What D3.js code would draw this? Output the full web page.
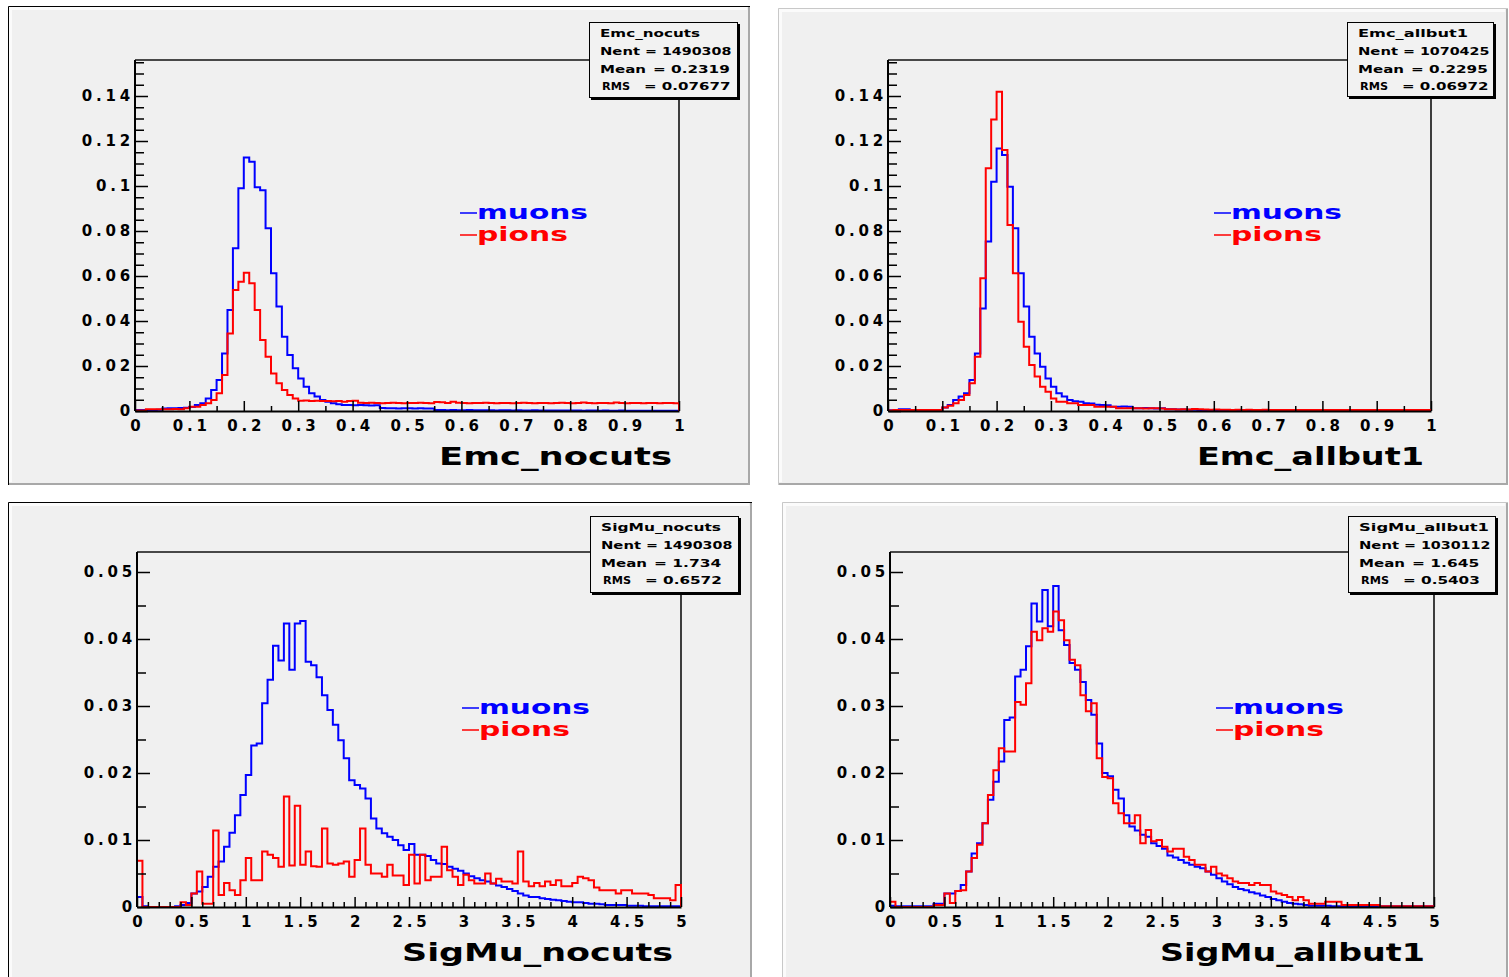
<!DOCTYPE html>
<html>
<head>
<meta charset="utf-8">
<script src="https://cdn.jsdelivr.net/npm/d3@7"></script>
<style>
  html, body { margin: 0; padding: 0; background: #ffffff; }
  svg text { font-family: "DejaVu Sans", "Liberation Sans", sans-serif; font-weight: bold; fill: #000; }
</style>
</head>
<body>
<svg id="canvas" width="1509" height="977"></svg>
<script>
// ---- histogram contents: 100 bins each, normalised to unit area ----
// Emc: 0..1, bin width 0.01 ; SigMu: 0..5, bin width 0.05
const emcNocutsMuons = [
  0.0005,0.0005,0.0005,0.0005,0.0006,0.0011,0.0012,0.0012,0.0013,0.0015,
  0.0018,0.0027,0.0034,0.0056,0.0093,0.0138,0.0256,0.0449,0.0723,0.0990,
  0.1127,0.1108,0.0995,0.0981,0.0812,0.0612,0.0464,0.0330,0.0249,0.0190,
  0.0145,0.0108,0.0079,0.0064,0.0049,0.0041,0.0034,0.0030,0.0027,0.0027,
  0.0026,0.0027,0.0026,0.0025,0.0026,0.0013,0.0012,0.0012,0.0011,0.0012,
  0.0012,0.0011,0.0012,0.0011,0.0011,0.0004,0.0004,0.0003,0.0004,0.0003,
  0.0003,0.0004,0.0003,0.0003,0.0003,0.0003,0.0002,0.0003,0.0003,0.0002,
  0.0003,0.0002,0.0002,0.0003,0.0002,0.0002,0.0002,0.0002,0.0002,0.0002,
  0.0002,0.0002,0.0001,0.0002,0.0002,0.0001,0.0002,0.0001,0.0001,0.0002,
  0.0001,0.0001,0.0001,0.0001,0.0001,0.0001,0.0001,0.0001,0.0001,0.0001];
const emcNocutsPions = [
  0.0002,0.0002,0.0008,0.0008,0.0008,0.0008,0.0008,0.0009,0.0008,0.0012,
  0.0019,0.0019,0.0027,0.0034,0.0049,0.0079,0.0160,0.0345,0.0538,0.0575,
  0.0615,0.0568,0.0449,0.0316,0.0241,0.0167,0.0123,0.0093,0.0071,0.0056,
  0.0046,0.0047,0.0045,0.0046,0.0044,0.0045,0.0043,0.0044,0.0041,0.0045,
  0.0046,0.0037,0.0036,0.0037,0.0036,0.0035,0.0036,0.0037,0.0036,0.0035,
  0.0036,0.0036,0.0037,0.0036,0.0035,0.0040,0.0039,0.0036,0.0041,0.0037,
  0.0036,0.0035,0.0036,0.0036,0.0037,0.0036,0.0035,0.0036,0.0036,0.0035,
  0.0036,0.0037,0.0036,0.0035,0.0036,0.0036,0.0035,0.0036,0.0037,0.0036,
  0.0035,0.0036,0.0038,0.0036,0.0035,0.0036,0.0036,0.0035,0.0038,0.0036,
  0.0035,0.0036,0.0036,0.0035,0.0036,0.0036,0.0035,0.0036,0.0036,0.0035];
const emcAllbutMuons = [
  0.0003,0.0003,0.0008,0.0008,0.0004,0.0004,0.0004,0.0004,0.0004,0.0005,
  0.0016,0.0027,0.0049,0.0064,0.0079,0.0138,0.0256,0.0456,0.0753,0.1019,
  0.1167,0.1138,0.0997,0.0812,0.0612,0.0464,0.0330,0.0256,0.0197,0.0145,
  0.0108,0.0079,0.0064,0.0049,0.0043,0.0041,0.0035,0.0033,0.0028,0.0027,
  0.0026,0.0019,0.0019,0.0020,0.0019,0.0012,0.0012,0.0013,0.0012,0.0011,
  0.0012,0.0008,0.0008,0.0007,0.0007,0.0006,0.0006,0.0005,0.0005,0.0005,
  0.0004,0.0003,0.0003,0.0003,0.0003,0.0003,0.0003,0.0003,0.0003,0.0003,
  0.0003,0.0003,0.0002,0.0003,0.0002,0.0002,0.0002,0.0002,0.0002,0.0002,
  0.0002,0.0002,0.0002,0.0002,0.0001,0.0002,0.0001,0.0002,0.0001,0.0001,
  0.0001,0.0001,0.0001,0.0001,0.0001,0.0001,0.0001,0.0001,0.0001,0.0001];
const emcAllbutPions = [
  0.0002,0.0004,0.0004,0.0004,0.0004,0.0004,0.0004,0.0004,0.0004,0.0005,
  0.0016,0.0023,0.0034,0.0049,0.0071,0.0123,0.0241,0.0590,0.1079,0.1296,
  0.1419,0.1160,0.0827,0.0612,0.0397,0.0286,0.0204,0.0153,0.0108,0.0086,
  0.0056,0.0041,0.0041,0.0034,0.0034,0.0027,0.0027,0.0027,0.0019,0.0019,
  0.0019,0.0019,0.0012,0.0012,0.0012,0.0012,0.0012,0.0011,0.0012,0.0012,
  0.0011,0.0008,0.0008,0.0007,0.0008,0.0007,0.0009,0.0008,0.0007,0.0006,
  0.0007,0.0006,0.0006,0.0005,0.0006,0.0005,0.0006,0.0005,0.0005,0.0006,
  0.0005,0.0005,0.0005,0.0004,0.0005,0.0005,0.0004,0.0005,0.0004,0.0005,
  0.0004,0.0004,0.0005,0.0004,0.0004,0.0004,0.0005,0.0004,0.0004,0.0004,
  0.0005,0.0004,0.0004,0.0004,0.0004,0.0004,0.0004,0.0004,0.0004,0.0004];
const sigNocutsMuons = [
  0.0015,0.0001,0.0000,0.0000,0.0000,0.0000,0.0000,0.0001,0.0003,0.0006,
  0.0020,0.0023,0.0030,0.0045,0.0060,0.0068,0.0090,0.0111,0.0137,0.0167,
  0.0197,0.0241,0.0244,0.0304,0.0339,0.0390,0.0368,0.0423,0.0354,0.0423,
  0.0427,0.0366,0.0361,0.0343,0.0316,0.0294,0.0272,0.0249,0.0222,0.0189,
  0.0182,0.0177,0.0162,0.0132,0.0117,0.0110,0.0105,0.0100,0.0092,0.0085,
  0.0094,0.0078,0.0078,0.0076,0.0070,0.0065,0.0064,0.0060,0.0057,0.0054,
  0.0050,0.0046,0.0043,0.0040,0.0038,0.0035,0.0032,0.0030,0.0027,0.0024,
  0.0020,0.0017,0.0015,0.0015,0.0013,0.0012,0.0011,0.0010,0.0009,0.0008,
  0.0007,0.0007,0.0006,0.0005,0.0005,0.0004,0.0003,0.0003,0.0003,0.0003,
  0.0002,0.0002,0.0002,0.0001,0.0001,0.0001,0.0001,0.0001,0.0001,0.0001];
const sigNocutsPions = [
  0.0069,0.0000,0.0000,0.0000,0.0000,0.0000,0.0000,0.0000,0.0007,0.0003,
  0.0020,0.0053,0.0005,0.0005,0.0114,0.0018,0.0036,0.0025,0.0018,0.0040,
  0.0073,0.0040,0.0040,0.0083,0.0078,0.0073,0.0060,0.0165,0.0062,0.0151,
  0.0063,0.0083,0.0061,0.0060,0.0117,0.0065,0.0063,0.0065,0.0068,0.0045,
  0.0070,0.0117,0.0063,0.0050,0.0050,0.0045,0.0063,0.0047,0.0047,0.0033,
  0.0078,0.0035,0.0078,0.0040,0.0045,0.0045,0.0090,0.0055,0.0045,0.0033,
  0.0048,0.0040,0.0035,0.0035,0.0050,0.0035,0.0042,0.0038,0.0038,0.0035,
  0.0083,0.0038,0.0031,0.0036,0.0031,0.0038,0.0033,0.0040,0.0031,0.0031,
  0.0036,0.0045,0.0043,0.0040,0.0029,0.0025,0.0025,0.0025,0.0020,0.0025,
  0.0025,0.0020,0.0020,0.0020,0.0018,0.0013,0.0013,0.0013,0.0010,0.0033];
const sigAllbutMuons = [
  0.0002,0.0001,0.0001,0.0001,0.0001,0.0001,0.0001,0.0001,0.0005,0.0005,
  0.0020,0.0020,0.0024,0.0033,0.0053,0.0080,0.0095,0.0125,0.0160,0.0187,
  0.0217,0.0279,0.0283,0.0344,0.0354,0.0389,0.0453,0.0426,0.0473,0.0419,
  0.0479,0.0413,0.0391,0.0364,0.0354,0.0336,0.0309,0.0287,0.0244,0.0200,
  0.0195,0.0175,0.0162,0.0137,0.0120,0.0114,0.0108,0.0105,0.0095,0.0091,
  0.0087,0.0077,0.0074,0.0070,0.0066,0.0063,0.0060,0.0058,0.0053,0.0048,
  0.0043,0.0038,0.0034,0.0030,0.0027,0.0025,0.0022,0.0020,0.0017,0.0015,
  0.0012,0.0010,0.0008,0.0006,0.0005,0.0004,0.0003,0.0002,0.0002,0.0002,
  0.0002,0.0001,0.0001,0.0001,0.0001,0.0001,0.0001,0.0001,0.0001,0.0001,
  0.0001,0.0001,0.0001,0.0001,0.0001,0.0001,0.0001,0.0001,0.0001,0.0001];
const sigAllbutPions = [
  0.0008,0.0000,0.0000,0.0000,0.0000,0.0000,0.0000,0.0000,0.0003,0.0003,
  0.0020,0.0006,0.0024,0.0025,0.0053,0.0073,0.0093,0.0125,0.0167,0.0204,
  0.0237,0.0232,0.0232,0.0306,0.0302,0.0334,0.0411,0.0398,0.0416,0.0411,
  0.0441,0.0428,0.0398,0.0369,0.0361,0.0316,0.0292,0.0304,0.0222,0.0194,
  0.0192,0.0155,0.0140,0.0125,0.0125,0.0137,0.0095,0.0115,0.0098,0.0100,
  0.0090,0.0083,0.0087,0.0087,0.0075,0.0070,0.0063,0.0063,0.0053,0.0060,
  0.0050,0.0047,0.0043,0.0038,0.0036,0.0036,0.0033,0.0036,0.0033,0.0033,
  0.0023,0.0020,0.0018,0.0015,0.0010,0.0015,0.0010,0.0005,0.0005,0.0005,
  0.0008,0.0008,0.0008,0.0003,0.0003,0.0003,0.0003,0.0003,0.0003,0.0003,
  0.0001,0.0001,0.0001,0.0001,0.0001,0.0001,0.0001,0.0001,0.0001,0.0001];

// ---- axis ticks ----
const emcXTicks  = [0,0.1,0.2,0.3,0.4,0.5,0.6,0.7,0.8,0.9,1];
const emcXMinor  = [0.05,0.15,0.25,0.35,0.45,0.55,0.65,0.75,0.85,0.95];
const emcYTicks  = [0,0.02,0.04,0.06,0.08,0.1,0.12,0.14];
const emcYMinor  = [0.005,0.01,0.015,0.025,0.03,0.035,0.045,0.05,0.055,0.065,0.07,0.075,
                    0.085,0.09,0.095,0.105,0.11,0.115,0.125,0.13,0.135,0.145,0.15,0.155];
const sigXTicks  = [0,0.5,1,1.5,2,2.5,3,3.5,4,4.5,5];
const sigXMinor  = [0.1,0.2,0.3,0.4,0.6,0.7,0.8,0.9,1.1,1.2,1.3,1.4,1.6,1.7,1.8,1.9,
                    2.1,2.2,2.3,2.4,2.6,2.7,2.8,2.9,3.1,3.2,3.3,3.4,3.6,3.7,3.8,3.9,
                    4.1,4.2,4.3,4.4,4.6,4.7,4.8,4.9];
const sigYTicks  = [0,0.01,0.02,0.03,0.04,0.05];
const sigYMinor  = [0.005,0.015,0.025,0.035,0.045];

// ---- titles, legend and statistics boxes ----
const histTitles = ["Emc_nocuts", "Emc_allbut1", "SigMu_nocuts", "SigMu_allbut1"];
const legendLabels = ["muons", "pions"];
const legendColors = ["#0000ff", "#ff0000"];
const statNent = [1490308, 1070425, 1490308, 1030112];
const statMean = [0.2319, 0.2295, 1.734, 1.645];
const statRms  = [0.07677, 0.06972, 0.6572, 0.5403];

// ---- layout of the four pads ----
const panels = [
  { pad: [8, 6, 742, 479, true],  xr: [135, 679], xdom: [0, 1], yb: 411, yTop: 60, yRef: [0.14, 96],
    xt: emcXTicks, xm: emcXMinor, yt: emcYTicks, ym: emcYMinor, h: [emcNocutsMuons, emcNocutsPions],
    title: [439, 465, 233], box: [589, 22, 148, 75], leg: [460, 213] },
  { pad: [778, 8, 730, 477, false], xr: [888, 1431], xdom: [0, 1], yb: 411, yTop: 60, yRef: [0.14, 96],
    xt: emcXTicks, xm: emcXMinor, yt: emcYTicks, ym: emcYMinor, h: [emcAllbutMuons, emcAllbutPions],
    title: [1197, 465, 227], box: [1347, 22, 146, 74], leg: [1214, 213] },
  { pad: [8, 502, 744, 480, true], xr: [137, 681], xdom: [0, 5], yb: 907, yTop: 552, yRef: [0.05, 572],
    xt: sigXTicks, xm: sigXMinor, yt: sigYTicks, ym: sigYMinor, h: [sigNocutsMuons, sigNocutsPions],
    title: [402, 961, 271], box: [590, 516, 148, 76], leg: [462, 708] },
  { pad: [782, 502, 726, 480, false], xr: [890, 1434], xdom: [0, 5], yb: 907, yTop: 552, yRef: [0.05, 572],
    xt: sigXTicks, xm: sigXMinor, yt: sigYTicks, ym: sigYMinor, h: [sigAllbutMuons, sigAllbutPions],
    title: [1160, 961, 265], box: [1348, 516, 147, 76], leg: [1216, 708] }
];

const svg = d3.select("#canvas");
const fmt = d => String(+d.toFixed(4));

panels.forEach((p, k) => {
  const g = svg.append("g");
  const [px, py, pw, ph, darkEdge] = p.pad;

  // pad with bevelled border
  g.append("rect").attr("x", px).attr("y", py).attr("width", pw).attr("height", ph).attr("fill", "#f0f0f0");
  g.append("path").attr("d", `M${px+2.5},${py+ph-3}V${py+2.5}H${px+pw-3}`)
    .attr("fill", "none").attr("stroke", "#fbfbfb").attr("stroke-width", 3);
  g.append("path").attr("d", `M${px+pw-1},${py+1}V${py+ph-1}H${px+1}`)
    .attr("fill", "none").attr("stroke", "#a8a8a8").attr("stroke-width", 2);
  g.append("path").attr("d", `M${px+0.5},${py+ph}V${py+0.5}H${px+pw}`)
    .attr("fill", "none").attr("stroke", darkEdge ? "#000" : "#c8c8c8").attr("stroke-width", 1);

  const x = d3.scaleLinear().domain(p.xdom).range(p.xr);
  const y = d3.scaleLinear().domain([0, p.yRef[0]]).range([p.yb, p.yRef[1]]);

  // frame top and right edges
  g.append("path").attr("d", `M${p.xr[0]},${p.yTop}H${p.xr[1]}V${p.yb}`)
    .attr("fill", "none").attr("stroke", "#111").attr("stroke-width", 1.6);

  // histograms (muons first, pions drawn over them)
  const nb = p.h[0].length;
  const bw = (p.xdom[1] - p.xdom[0]) / nb;
  const line = d3.line().x(d => x(d[0])).y(d => y(d[1]));
  p.h.forEach((vals, s) => {
    const pts = [[p.xdom[0], 0]];
    vals.forEach((v, i) => {
      pts.push([p.xdom[0] + i * bw, v]);
      pts.push([p.xdom[0] + (i + 1) * bw, v]);
    });
    pts.push([p.xdom[1], 0]);
    g.append("path").attr("d", line(pts)).attr("fill", "none")
      .attr("stroke", legendColors[s]).attr("stroke-width", 2).attr("stroke-linejoin", "miter");
  });

  // axes: ticks point into the frame
  const styleAxis = sel => {
    sel.selectAll(".tick line").attr("stroke", "#000").attr("stroke-width", 1.5);
    sel.selectAll("text").attr("font-size", 15).attr("letter-spacing", 3.8)
      .attr("font-family", "DejaVu Sans, sans-serif").attr("font-weight", "bold").attr("fill", "#000");
  };
  const xa = g.append("g").attr("transform", `translate(0,${p.yb})`)
    .call(d3.axisBottom(x).tickValues(p.xt).tickSize(-10).tickSizeOuter(0).tickPadding(9).tickFormat(fmt));
  styleAxis(xa);
  xa.select(".domain").attr("stroke", "#000").attr("stroke-width", 2);
  xa.selectAll("text").attr("dx", "1.9px");
  const xm = g.append("g").attr("transform", `translate(0,${p.yb})`)
    .call(d3.axisBottom(x).tickValues(p.xm).tickSize(-5).tickFormat(""));
  xm.select(".domain").remove();
  styleAxis(xm);

  const ya = g.append("g").attr("transform", `translate(${p.xr[0]},0)`)
    .call(d3.axisLeft(y).tickValues(p.yt).tickSize(-13).tickSizeOuter(0).tickPadding(1).tickFormat(fmt));
  styleAxis(ya);
  ya.select(".domain").attr("d", `M0,${p.yb}V${p.yTop}`).attr("stroke", "#000").attr("stroke-width", 2);
  const ymn = g.append("g").attr("transform", `translate(${p.xr[0]},0)`)
    .call(d3.axisLeft(y).tickValues(p.ym).tickSize(-9).tickFormat(""));
  ymn.select(".domain").remove();
  styleAxis(ymn);

  // x-axis title
  g.append("text").attr("x", p.title[0]).attr("y", p.title[1])
    .attr("font-size", 25).attr("textLength", p.title[2]).attr("lengthAdjust", "spacingAndGlyphs")
    .text(histTitles[k]);

  // legend
  legendLabels.forEach((lab, s) => {
    const ly = p.leg[1] + s * 22;
    g.append("line").attr("x1", p.leg[0]).attr("x2", p.leg[0] + 17).attr("y1", ly).attr("y2", ly)
      .attr("stroke", legendColors[s]).attr("stroke-width", 1.5);
    g.append("text").attr("x", p.leg[0] + 17).attr("y", ly + 6)
      .attr("font-size", 20).attr("fill", legendColors[s]).style("fill", legendColors[s])
      .attr("textLength", s === 0 ? 111 : 91).attr("lengthAdjust", "spacingAndGlyphs")
      .text(lab);
  });

  // statistics box
  const [bx, by, bwid, bh] = p.box;
  g.append("rect").attr("x", bx + 2).attr("y", by + 2).attr("width", bwid + 1).attr("height", bh + 1).attr("fill", "#000");
  g.append("rect").attr("x", bx + 0.5).attr("y", by + 0.5).attr("width", bwid).attr("height", bh)
    .attr("fill", "#f2f2f2").attr("stroke", "#000").attr("stroke-width", 1);
  const cid = "clip" + k;
  svg.append("clipPath").attr("id", cid).append("rect")
    .attr("x", bx + 1).attr("y", by + 1).attr("width", bwid - 1).attr("height", bh - 1);
  const st = g.append("g").attr("clip-path", `url(#${cid})`).attr("font-size", 11);
  const name = histTitles[k];
  st.append("text").attr("x", bx + 11).attr("y", by + 15)
    .attr("textLength", name.length * 10).attr("lengthAdjust", "spacingAndGlyphs").text(name);
  const rows = [["Nent", 40, "= " + statNent[k], 56], ["Mean", 46, "= " + statMean[k], 64], ["RMS", 28, "= " + statRms[k], 55]];
  rows.forEach((r, i) => {
    const ry = by + 33 + i * 17.5;
    st.append("text").attr("x", bx + 11 + (i === 2 ? 2 : 0)).attr("y", ry)
      .attr("textLength", r[1]).attr("lengthAdjust", "spacingAndGlyphs").text(r[0]);
    st.append("text").attr("x", bx + r[3]).attr("y", ry)
      .attr("textLength", r[2].length * 9.6).attr("lengthAdjust", "spacingAndGlyphs")
      .style("white-space", "pre").text(r[2]);
  });
});
</script>
</body>
</html>
